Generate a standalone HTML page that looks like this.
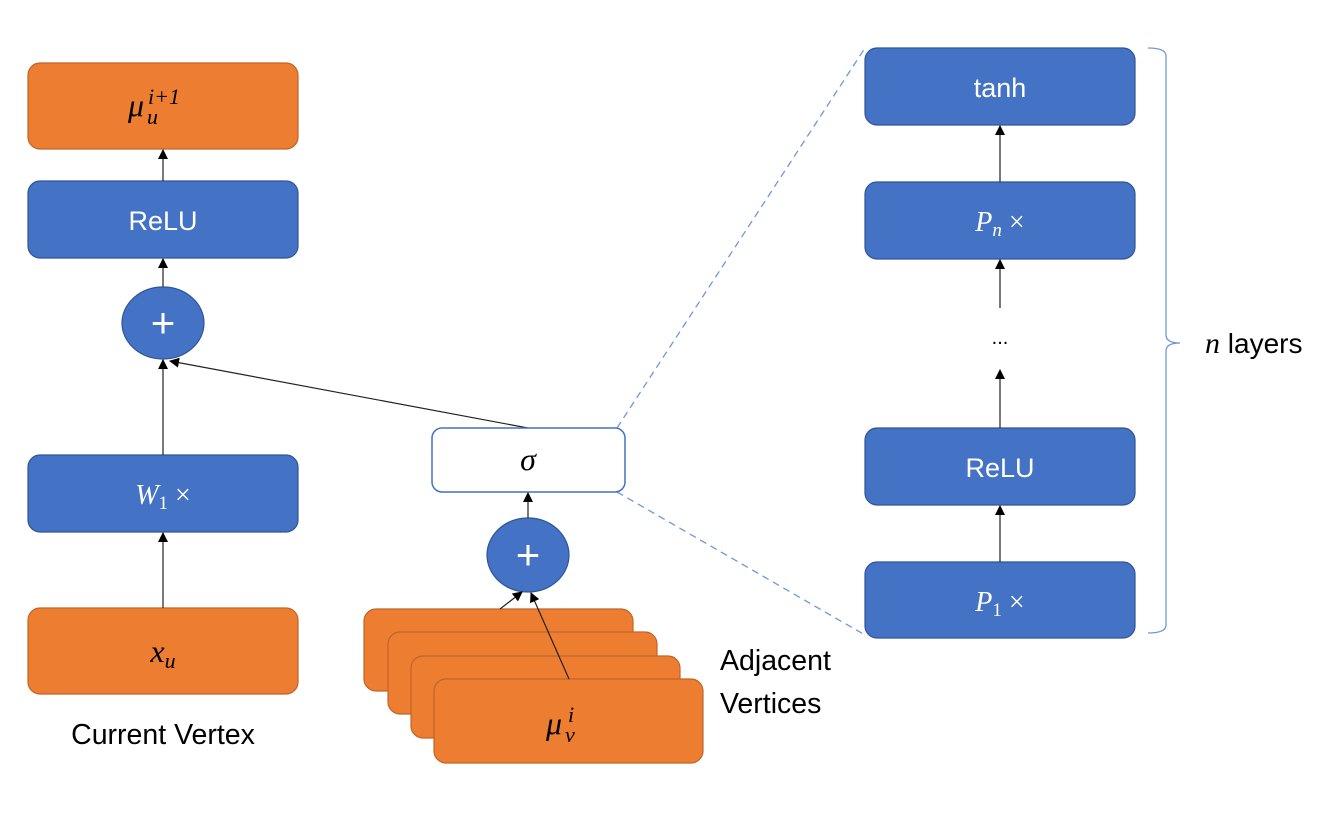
<!DOCTYPE html>
<html><head><meta charset="utf-8"><style>
html,body{margin:0;padding:0;background:#fff;}
svg{display:block;}
.b{fill:#4472c4;stroke:#2f5597;stroke-width:1.2}
.o{fill:#ed7d31;stroke:#c0652a;stroke-width:1.2}
.wt{fill:#fff;font-family:"Liberation Sans",sans-serif;font-size:27px;text-anchor:middle}
.mt{font-family:"Liberation Serif",serif;font-style:italic;font-size:32px}
.t{font-family:"Liberation Sans",sans-serif;font-size:28.5px;fill:#000}
.l{stroke:#222;stroke-width:1.2;fill:none}
</style></head><body>
<svg width="1340" height="820" viewBox="0 0 1340 820" xmlns="http://www.w3.org/2000/svg">
<defs><marker id="a" markerWidth="10" markerHeight="10" refX="9" refY="5" orient="auto" markerUnits="userSpaceOnUse"><path d="M0,0 L10,5 L0,10 z" fill="#000"/></marker></defs>

<line x1="617" y1="428" x2="865" y2="48" stroke="#6f97d8" stroke-width="1.3" stroke-dasharray="7,5"/>
<line x1="617" y1="492" x2="865" y2="635" stroke="#6f97d8" stroke-width="1.3" stroke-dasharray="7,5"/>

<rect class="o" x="28" y="63" width="270" height="86" rx="12"/>
<text class="mt" x="128" y="116">μ</text>
<text class="mt" x="147" y="124" style="font-size:22px">u</text>
<text class="mt" x="148" y="104" style="font-size:22px">i+1</text>
<rect class="b" x="28" y="181" width="270" height="77" rx="12"/>
<text class="wt" x="163" y="230">ReLU</text>
<ellipse class="b" cx="163" cy="323" rx="41" ry="36"/>
<text x="163" y="337" fill="#fff" font-family="Liberation Sans,sans-serif" font-size="42" text-anchor="middle">+</text>
<rect class="b" x="28" y="455" width="270" height="77" rx="12"/>
<text x="163" y="504" fill="#fff" font-family="Liberation Serif,serif" font-size="28" text-anchor="middle"><tspan font-style="italic">W</tspan><tspan font-size="19" dy="5">1</tspan><tspan dy="-5"> ×</tspan></text>
<rect class="o" x="28" y="608" width="270" height="86" rx="12"/>
<text class="mt" x="163" y="662" text-anchor="middle">x<tspan style="font-size:22px" dy="6">u</tspan></text>
<text class="t" x="163" y="744" text-anchor="middle">Current Vertex</text>

<line class="l" x1="163" y1="181" x2="163" y2="150" marker-end="url(#a)"/>
<line class="l" x1="163" y1="287" x2="163" y2="259" marker-end="url(#a)"/>
<line class="l" x1="163" y1="455" x2="163" y2="360" marker-end="url(#a)"/>
<line class="l" x1="163" y1="608" x2="163" y2="533" marker-end="url(#a)"/>
<line class="l" x1="528" y1="428" x2="170" y2="361" marker-end="url(#a)"/>

<rect x="432" y="428" width="193" height="64" rx="10" fill="#fff" stroke="#4472c4" stroke-width="1.5"/>
<text class="mt" x="528" y="470" text-anchor="middle">σ</text>
<ellipse class="b" cx="528" cy="555" rx="41" ry="37"/>
<text x="528" y="569" fill="#fff" font-family="Liberation Sans,sans-serif" font-size="42" text-anchor="middle">+</text>
<line class="l" x1="528" y1="518" x2="528" y2="493" marker-end="url(#a)"/>

<rect class="o" x="364" y="609" width="269" height="82" rx="12"/>
<rect class="o" x="388" y="632" width="269" height="82" rx="12"/>
<rect class="o" x="411" y="656" width="269" height="82" rx="12"/>
<rect class="o" x="434" y="679" width="269" height="84" rx="12"/>
<text class="mt" x="546" y="734">μ</text>
<text class="mt" x="565" y="742" style="font-size:22px">v</text>
<text class="mt" x="568" y="722" style="font-size:22px">i</text>
<line class="l" x1="500" y1="609" x2="522" y2="592" marker-end="url(#a)"/>
<line class="l" x1="569" y1="679" x2="531" y2="593" marker-end="url(#a)"/>
<text class="t" x="720" y="670">Adjacent</text>
<text class="t" x="720" y="713">Vertices</text>

<rect class="b" x="865" y="48" width="270" height="77" rx="12"/>
<text class="wt" x="1000" y="97">tanh</text>
<rect class="b" x="865" y="182" width="270" height="77" rx="12"/>
<text x="1000" y="231" fill="#fff" font-family="Liberation Serif,serif" font-size="28" text-anchor="middle"><tspan font-style="italic">P</tspan><tspan font-size="19" font-style="italic" dy="5">n</tspan><tspan dy="-5"> ×</tspan></text>
<text x="1000" y="344" font-family="Liberation Sans,sans-serif" font-size="20" text-anchor="middle">...</text>
<rect class="b" x="865" y="428" width="270" height="77" rx="12"/>
<text class="wt" x="1000" y="477">ReLU</text>
<rect class="b" x="865" y="562" width="270" height="76" rx="12"/>
<text x="1000" y="611" fill="#fff" font-family="Liberation Serif,serif" font-size="28" text-anchor="middle"><tspan font-style="italic">P</tspan><tspan font-size="19" dy="5">1</tspan><tspan dy="-5"> ×</tspan></text>

<line class="l" x1="1000" y1="182" x2="1000" y2="126" marker-end="url(#a)"/>
<line class="l" x1="1000" y1="308" x2="1000" y2="260" marker-end="url(#a)"/>
<line class="l" x1="1000" y1="428" x2="1000" y2="370" marker-end="url(#a)"/>
<line class="l" x1="1000" y1="562" x2="1000" y2="506" marker-end="url(#a)"/>

<path d="M1148,48 Q1166,48 1166,56 L1166,335 Q1166,343 1180,343 Q1166,343 1166,351 L1166,625 Q1166,633 1148,633" fill="none" stroke="#6f97d8" stroke-width="1.3"/>
<text x="1205" y="353" font-family="Liberation Sans,sans-serif" font-size="28"><tspan font-family="Liberation Serif,serif" font-style="italic" font-size="30">n</tspan> layers</text>
</svg>
</body></html>
